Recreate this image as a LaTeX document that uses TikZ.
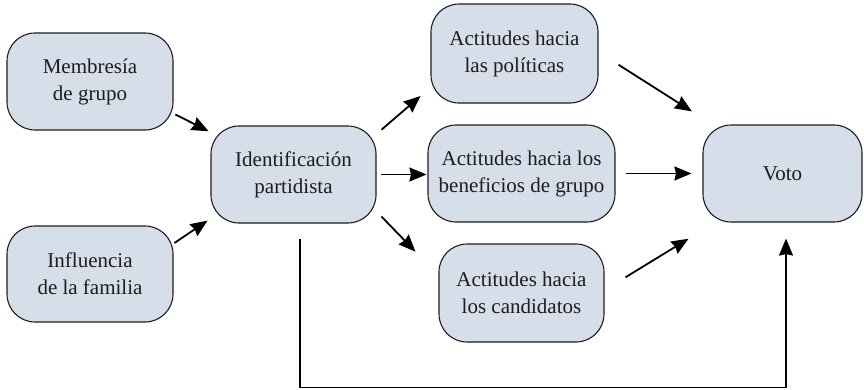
\documentclass[tikz,border=0pt]{standalone}
\usepackage{fontspec}
\setmainfont{Liberation Serif}
\usetikzlibrary{arrows.meta}
\definecolor{boxfill}{RGB}{214,222,234}
\definecolor{ink}{RGB}{30,28,30}
\tikzset{
  box/.style={draw=ink, line width=1.1pt, fill=boxfill, rounded corners=28pt,
    align=center, inner sep=0pt, text=ink,
    font=\fontsize{21}{27}\selectfont},
  arr/.style={draw=black, line width=1.8pt,
    -{Stealth[length=17pt,width=14pt,inset=1.5pt]}},
}
\begin{document}
\begin{tikzpicture}[x=1pt,y=-1pt]
\useasboundingbox (0,0) rectangle (864,389);
\node[box, minimum width=166pt, minimum height=97pt] (mem) at (90,81.5) {Membresía\\de grupo};
\node[box, minimum width=166pt, minimum height=96pt] (inf) at (90,274) {Influencia\\de la familia};
\node[box, minimum width=165pt, minimum height=97pt] (ide) at (293.5,174.5) {Identificación\\partidista};
\node[box, minimum width=167pt, minimum height=99pt] (pol) at (514.5,53.5) {Actitudes hacia\\las políticas};
\node[box, minimum width=187pt, minimum height=97pt] (ben) at (521.5,173.5) {Actitudes hacia los\\beneficios de grupo};
\node[box, minimum width=165pt, minimum height=98pt] (can) at (521.5,293) {Actitudes hacia\\los candidatos};
\node[box, minimum width=159pt, minimum height=97pt] (vot) at (782.5,173.5) {Voto};

\draw[arr, shorten <=2pt, shorten >=2pt] (mem.-21.3) -- (ide.153.8);
\draw[arr, shorten <=1pt, shorten >=3.5pt] (inf.20.1) -- (ide.208.3);
\draw[arr, shorten <=6.6pt, shorten >=13pt] (ide.26) -- (pol.202.2);
\draw[arr, shorten <=4pt, shorten >=1pt] (ide.east) -- (ide.east -| ben.west);
\draw[arr, shorten <=7pt, shorten >=33pt] (ide.-24.4) -- (can.168.8);
\draw[arr, shorten <=23.7pt, shorten >=24.3pt] (pol.1) -- (vot.145.3);
\draw[arr, shorten <=10pt, shorten >=11pt] (ben.east) -- (ben.east -| vot.west);
\draw[arr, shorten <=24.5pt, shorten >=31pt] (can.2.4) -- (vot.216.4);
\draw[arr] ([xshift=6.5pt,yshift=-15pt]ide.south) -- ++(0,149) -| ([xshift=3.5pt,yshift=-16pt]vot.south);
\end{tikzpicture}
\end{document}
